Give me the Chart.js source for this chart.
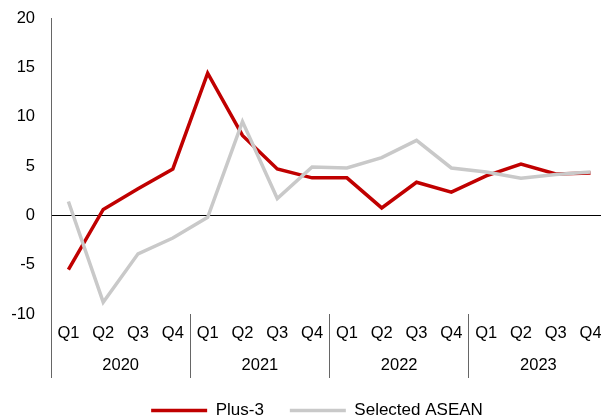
<!DOCTYPE html>
<html>
<head>
<meta charset="utf-8">
<script src="https://cdn.jsdelivr.net/npm/chart.js@4/dist/chart.umd.min.js"></script>
<style>
  html,body{margin:0;padding:0;background:#fff;overflow:hidden;}
  #wrap{width:608px;height:418px;position:relative;}
</style>
</head>
<body>
<div id="wrap"><canvas id="chart"></canvas></div>
<script>
const QUARTERS=["Q1","Q2","Q3","Q4","Q1","Q2","Q3","Q4","Q1","Q2","Q3","Q4","Q1","Q2","Q3","Q4"];
const YEARS=["2020","2021","2022","2023"];
const PLUS3=[-5.5,0.6,2.7,4.7,14.4,8.1,4.7,3.8,3.8,0.75,3.35,2.35,4.0,5.2,4.2,4.3];
const ASEAN=[1.4,-8.8,-3.9,-2.3,-0.2,9.5,1.7,4.9,4.8,5.85,7.6,4.8,4.4,3.75,4.15,4.4];
const Y_MIN=-10, Y_MAX=20, Y_STEP=5;

Chart.defaults.font.family="'Liberation Sans', Arial, sans-serif";
Chart.defaults.font.size=16.5;
Chart.defaults.color="#000";

// nudge the legend a little to the right, like the original
const legendShift={
  id:"legendShift",
  beforeLayout(chart){
    const lg=chart.legend;
    if(!lg||lg._shifted) return;
    const draw=lg.draw.bind(lg);
    lg.draw=function(a){const c=chart.ctx;c.save();c.translate(7,0);draw(a);c.restore();};
    lg._shifted=true;
  }
};

new Chart(document.getElementById("chart"),{
  type:"line",
  data:{
    labels:QUARTERS,
    datasets:[
      {label:"Plus-3",data:PLUS3,borderColor:"#C00000",backgroundColor:"#C00000",borderWidth:3.5,pointRadius:0,tension:0,order:2,pointStyle:"line"},
      {label:"Selected ASEAN",data:ASEAN,borderColor:"#C9C9C9",backgroundColor:"#C9C9C9",borderWidth:3.5,pointRadius:0,tension:0,order:1,pointStyle:"line"}
    ]
  },
  plugins:[legendShift],
  options:{
    responsive:true,maintainAspectRatio:false,animation:false,
    layout:{padding:{top:18,left:12,right:0,bottom:-11}},
    plugins:{
      tooltip:{enabled:false},
      legend:{
        position:"bottom",
        labels:{usePointStyle:true,pointStyleWidth:56,padding:26,font:{size:17},
          sort:(a,b)=>a.datasetIndex-b.datasetIndex}
      }
    },
    scales:{
      x:{
        offset:true,
        border:{display:false},
        grid:{display:true,offset:true,drawOnChartArea:false,drawTicks:true,tickLength:64,
          color:c=>c.index%4===0?"#666666":"rgba(0,0,0,0)",lineWidth:1},
        ticks:{padding:-54,maxRotation:0,autoSkip:false},
        afterFit:s=>{s.height=32;}
      },
      x2:{
        type:"category",labels:YEARS,position:"bottom",offset:true,
        border:{display:false},
        grid:{display:false,drawTicks:false},
        ticks:{padding:10},
        afterFit:s=>{s.height=30;}
      },
      y:{
        min:Y_MIN,max:Y_MAX,
        border:{display:true,color:"#666666",width:1},
        grid:{drawTicks:false,color:c=>c.tick.value===0?"#000":"rgba(0,0,0,0)",lineWidth:1},
        ticks:{stepSize:Y_STEP,padding:16},
        afterFit:s=>{s.width=39;s.paddingTop=0;s.paddingBottom=0;}
      }
    }
  }
});
</script>
</body>
</html>
